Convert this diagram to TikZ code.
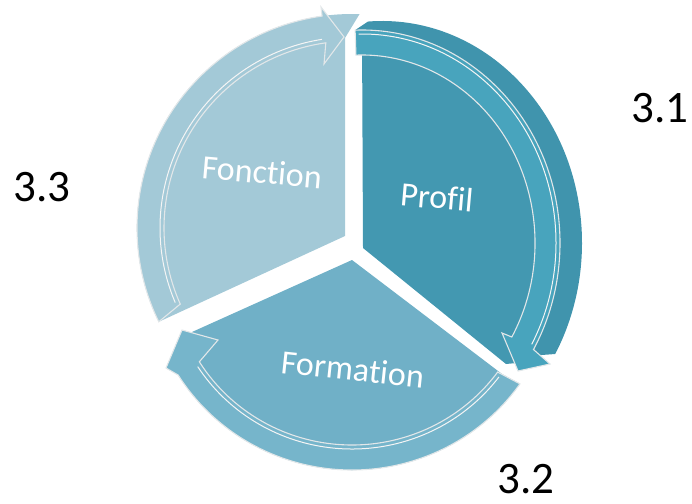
\documentclass[tikz,border=0pt]{standalone}
\usepackage{fontspec}
\setmainfont{Carlito}[Ligatures=NoCommon]
\usetikzlibrary{calc}

\definecolor{fonctionblue}{HTML}{A3C9D7}
\definecolor{formationblue}{HTML}{70B0C7}
\definecolor{formationband}{HTML}{76B5CB}
\definecolor{profilblue}{HTML}{4398B1}
\definecolor{profilband}{HTML}{48A4BD}
\definecolor{profilside}{HTML}{4094AD}
\definecolor{rimgray}{HTML}{E2E7E9}

\tikzset{
  band/.style={draw=rimgray, line width=1.1pt, line join=miter},
  rim/.style={draw=white!92!gray, line width=1pt},
  seg/.style={text=white, font=\fontsize{34}{34}\selectfont},
  num/.style={text=black, inner sep=0pt, font=\fontsize{45}{45}\selectfont}
}

\begin{document}
\begin{tikzpicture}[x=1pt,y=-1pt]
    \useasboundingbox (0,0) rectangle (692,503);
    \coordinate (F) at (352,228);
    \coordinate (M) at (352,268);
    \coordinate (P) at (362,243);
    \coordinate (S) at (382,243);

    % Fonction
    \fill[fonctionblue] (345,236) -- ($(F)+(154:215 and 214)$)
        arc[start angle=154, end angle=272, x radius=215, y radius=214] -- (345,38) -- cycle;
    \draw[band, fill=fonctionblue] ($(F)+(154:215 and 214)$)
        arc[start angle=154, end angle=262, x radius=215, y radius=214]
        -- (321,7) -- (344,37) -- (324,64) -- ($(F)+(262:188 and 187)$)
        arc[start angle=262, end angle=156, x radius=188, y radius=187] -- cycle;
    \draw[rim] ($(F)+(157:192 and 191)$) arc[start angle=157, end angle=261, x radius=192, y radius=191];

    % Formation
    \fill[formationblue] (352,260) -- (192,332) -- ($(M)+(150:205 and 202)$)
        arc[start angle=150, end angle=35, x radius=205, y radius=202] -- (502,374) -- cycle;
    \draw[band, fill=formationband] ($(M)+(35:205 and 202)$)
        arc[start angle=35, end angle=148, x radius=205, y radius=202]
        -- (166,368) -- (182,330) -- (218,340) -- ($(M)+(148:180 and 177)$)
        arc[start angle=148, end angle=36, x radius=180, y radius=177] -- cycle;
    \draw[rim] ($(M)+(37:184 and 181)$) arc[start angle=37, end angle=147, x radius=184, y radius=181];

    % Profil
    \fill[profilside] ($(P)+(-92:198 and 213)$) -- ($(S)+(-94:200 and 222)$)
        arc[start angle=-94, end angle=30, x radius=200, y radius=222]
        -- ($(P)+(32:198 and 213)$)
        arc[start angle=32, end angle=-92, x radius=198, y radius=213] -- cycle;
    \fill[profilblue] (363,248) -- ($(P)+(-90:198 and 213)$)
        arc[start angle=-90, end angle=34, x radius=198, y radius=213] -- (506,364) -- cycle;
    \draw[band, fill=profilband] ($(P)+(-92:198 and 213)$)
        arc[start angle=-92, end angle=30, x radius=198, y radius=213]
        -- (550,364) -- (518,371) -- (502,333) -- ($(P)+(30:173 and 188)$)
        arc[start angle=30, end angle=-92, x radius=173, y radius=188] -- cycle;
    \draw[rim] ($(P)+(-91:194 and 209)$) arc[start angle=-91, end angle=29, x radius=194, y radius=209];

    % labels
    \node[seg, rotate=-5] (fonction) at (262,172) {Fonction};
    \node[seg, rotate=-5] (profil) at (437,197) {Profil};
    \node[seg, rotate=-6] (formation) at (353,369) {Formation};
    \node[num] (n31) at (660,108) {3.1};
    \node[num] (n33) at (42,187) {3.3};
    \node[num] (n32) at (526,479) {3.2};
\end{tikzpicture}
\end{document}
